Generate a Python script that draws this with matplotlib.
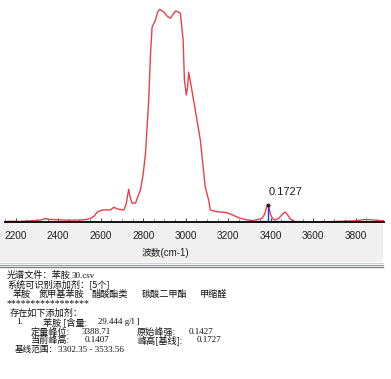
import matplotlib
matplotlib.use('Agg')
import matplotlib.pyplot as plt
from matplotlib.patches import Rectangle

plt.rcParams['font.family'] = ['Liberation Sans', 'Noto Sans CJK SC', 'DejaVu Sans']

# spectrum
wavenumber = [2153, 2180, 2210, 2250, 2290, 2320, 2341, 2360, 2400, 2450, 2505, 2530, 2552,
              2570, 2584, 2607, 2630, 2646, 2662, 2675, 2685, 2709, 2720, 2732, 2740, 2748,
              2764, 2787, 2800, 2811, 2826, 2835, 2842, 2858, 2868, 2878, 2897, 2912, 2928,
              2952, 2965, 2975, 2988, 2994, 3003, 3009, 3014, 3025, 3045, 3069, 3092, 3108,
              3116, 3140, 3163, 3194, 3220, 3257, 3290, 3319, 3340, 3359, 3372, 3383, 3390,
              3398, 3410, 3421, 3440, 3455, 3468, 3480, 3492, 3515, 3560, 3633, 3700, 3760,
              3800, 3850, 3880, 3910, 3933]
absorb = [0.005, 0.008, 0.005, 0.010, 0.015, 0.020, 0.035, 0.025, 0.022, 0.018, 0.020, 0.025, 0.037,
          0.060, 0.100, 0.120, 0.122, 0.120, 0.147, 0.135, 0.127, 0.120, 0.180, 0.327, 0.240, 0.187,
          0.190, 0.320, 0.480, 0.687, 1.220, 1.700, 1.950, 2.020, 2.100, 2.127, 2.100, 2.060, 2.037,
          2.110, 2.100, 2.087, 1.820, 1.420, 1.270, 1.350, 1.500, 1.370, 1.120, 0.820, 0.350, 0.220,
          0.120, 0.105, 0.100, 0.093, 0.070, 0.037, 0.020, 0.013, 0.025, 0.037, 0.080, 0.170, 0.172,
          0.080, 0.030, 0.020, 0.040, 0.080, 0.100, 0.070, 0.030, 0.003, 0.000, 0.000, 0.005, 0.010,
          0.012, 0.027, 0.020, 0.015, 0.012]

peak_pos = 3388.71
peak_height = 0.1727
base_lo, base_hi = 3302.35, 3533.56
xticks = [2200, 2400, 2600, 2800, 3000, 3200, 3400, 3600, 3800]

W, H = 391, 379
fig = plt.figure(figsize=(W / 100, H / 100), dpi=100)

# grey band under the plot and the double separator line
fig.patches.append(Rectangle((0, 1 - 262 / H), 383 / W, 40 / H, transform=fig.transFigure,
                             facecolor='#f0f0f0', edgecolor='none', zorder=-1))
for yy, c, lw in [(263, '#c8d0dc', 0.8), (264.5, '#a0a0a0', 0.8), (266.5, '#808080', 1.0)]:
    fig.add_artist(plt.Line2D([0, 383 / W], [1 - yy / H] * 2, transform=fig.transFigure,
                              color=c, lw=lw))

ax = fig.add_axes([5 / W, 1 - 222 / H, 379 / W, 222 / H])
ax.plot(wavenumber, absorb, color='#e8414a', lw=1.0)
ax.plot([peak_pos, peak_pos], [0, peak_height], color='#1a3fd0', lw=1.0)
ax.plot([base_lo, base_hi], [0.004, 0.004], color='#1a3fd0', lw=1.6)
ax.plot(peak_pos, peak_height, 'o', color='#202020', ms=1.8)
ax.text(peak_pos, 0.25, '0.1727', fontsize=8, color='#202020', ha='left', va='bottom')

ax.set_xlim(2153, 3933)
ax.set_ylim(0, 2.22)
ax.set_yticks([])
ax.set_xticks(xticks)
ax.set_xticks(range(2150, 3950, 50), minor=True)
ax.tick_params(axis='x', which='major', direction='in', length=3, width=0.6, labelsize=7.2,
               pad=6.5, colors='#202020')
ax.tick_params(axis='x', which='minor', direction='in', length=2, width=0.5, colors='#404040')
for s in ['top', 'left', 'right']:
    ax.spines[s].set_visible(False)
ax.spines['bottom'].set_linewidth(1.3)
ax.patch.set_alpha(0)

fig.text(165 / W, 1 - 253 / H, '波数(cm-1)', fontsize=7, ha='center', va='center',
         color='#202020')

# result panel
cjk = ['Noto Sans CJK SC', 'DejaVu Sans']
serif = ['Liberation Serif', 'DejaVu Serif']
def put(x, y, s, fam=cjk, size=6.6):
    fig.text(x / W, 1 - y / H, s, fontsize=size, family=fam, ha='left', va='center',
             color='#111111')

put(7, 275, '光谱文件：苯胺')
put(72, 275.5, '30.csv', serif, 6.5)
put(7, 284.5, '系统可识别添加剂：[5个]')
for x, s in [(13, '苯胺'), (39, '氮甲基苯胺'), (92, '醋酸酯类'), (142, '碳酸二甲酯'), (200, '甲缩醛')]:
    put(x, 294.5, s)
put(7, 303.5, '*' * 17, serif, 7)
put(10, 313.5, '存在如下添加剂：')
put(16, 322.5, '1.', serif, 6.5)
put(43, 322.5, '苯胺 [含量:')
put(98, 322.5, '29.444 g/l ]', serif, 6.5)
put(31, 332, '定量峰位:')
put(82, 332, '3388.71', serif, 6.5)
put(137, 332, '原始峰强:')
put(189, 332, '0.1427', serif, 6.5)
put(31, 340.5, '当前峰高:')
put(85, 340.5, '0.1407', serif, 6.5)
put(137, 340.5, '峰高[基线]:')
put(197, 340.5, '0.1727', serif, 6.5)
put(15, 349.5, '基线范围：', size=6.2)
put(58, 349.5, '3302.35 - 3533.56', serif, 6.5)

fig.savefig('out.png', dpi=100)
